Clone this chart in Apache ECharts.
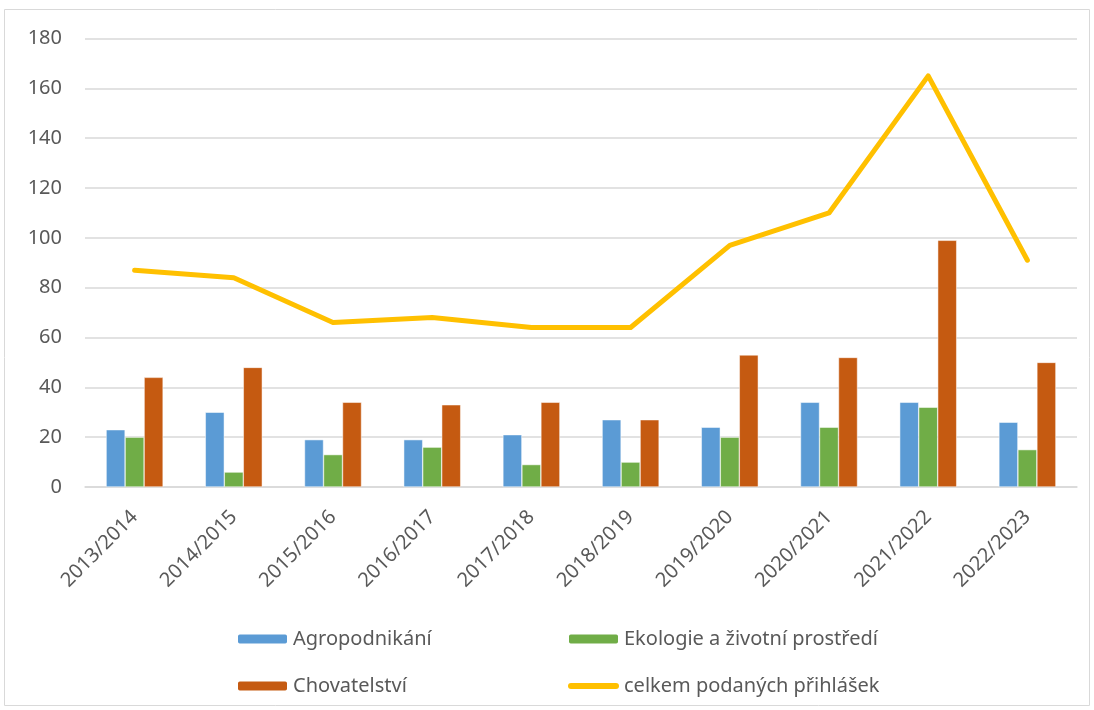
<!DOCTYPE html>
<html>
<head>
<meta charset="utf-8">
<script src="https://cdn.jsdelivr.net/npm/echarts@6/dist/echarts.min.js"></script>
<style>
  html, body { margin: 0; padding: 0; background: #fff; }
  #main { width: 1094px; height: 710px; }
</style>
</head>
<body>
<div id="main"></div>
<script>
var years = ["2013/2014", "2014/2015", "2015/2016", "2016/2017", "2017/2018",
  "2018/2019", "2019/2020", "2020/2021", "2021/2022", "2022/2023"];
var agro = [23, 30, 19, 19, 21, 27, 24, 34, 34, 26];
var eko = [20, 6, 13, 16, 9, 10, 20, 24, 32, 15];
var chov = [44, 48, 34, 33, 34, 27, 53, 52, 99, 50];
var celkem = [87, 84, 66, 68, 64, 64, 97, 110, 165, 91];

var font = "Noto Sans";
var textColor = "#595959";
// rounded thick line for the line series legend icon
var lineIcon = "path://M3,0 L48,0 A3,3 0 0 1 48,6 L3,6 A3,3 0 0 1 3,0 Z";

var chart = echarts.init(document.getElementById("main"));
var option = {
  animation: false,
  graphic: [{
    type: "rect",
    shape: { x: 4.5, y: 9.5, width: 1085, height: 696 },
    style: { fill: null, stroke: "#d9d9d9", lineWidth: 1 }
  }],
  grid: { left: 85, right: 17, top: 38.5, bottom: 223 },
  legend: [
    {
      orient: "vertical",
      left: 236, top: 629, padding: 0,
      itemGap: 27, itemWidth: 51, itemHeight: 11, itemTextGap: 6,
      data: ["Agropodnikání", "Chovatelství"],
      textStyle: { color: textColor, fontSize: 20, fontFamily: font }
    },
    {
      orient: "vertical",
      left: 567, top: 629, padding: 0,
      itemGap: 27, itemWidth: 51, itemHeight: 11, itemTextGap: 2,
      data: ["Ekologie a životní prostředí",
        { name: "celkem podaných přihlášek", icon: lineIcon }],
      textStyle: { color: textColor, fontSize: 20, fontFamily: font }
    }
  ],
  xAxis: {
    type: "category",
    data: years,
    axisLine: { lineStyle: { color: "#d9d9d9", width: 1.5 } },
    axisTick: { show: false },
    axisLabel: {
      rotate: 45, margin: 27, interval: 0,
      color: textColor, fontSize: 20, fontFamily: font
    }
  },
  yAxis: {
    type: "value",
    min: 0, max: 180, interval: 20,
    axisLine: { show: false },
    axisTick: { show: false },
    splitLine: { lineStyle: { color: "#d9d9d9", width: 1.5 } },
    axisLabel: { margin: 23, color: textColor, fontSize: 20, fontFamily: font }
  },
  series: [
    {
      name: "Agropodnikání", type: "bar", data: agro,
      barWidth: 19, barGap: "0%",
      itemStyle: { color: "#5b9bd5", borderColor: "#fff", borderWidth: 0.5 }
    },
    {
      name: "Ekologie a životní prostředí", type: "bar", data: eko,
      barWidth: 19, barGap: "0%",
      itemStyle: { color: "#70ad47", borderColor: "#fff", borderWidth: 0.5 }
    },
    {
      name: "Chovatelství", type: "bar", data: chov,
      barWidth: 19, barGap: "0%",
      itemStyle: { color: "#c55a11", borderColor: "#fff", borderWidth: 0.5 }
    },
    {
      name: "celkem podaných přihlášek", type: "line", data: celkem,
      symbol: "none",
      lineStyle: { color: "#ffc000", width: 5, cap: "round", join: "round" },
      itemStyle: { color: "#ffc000" }
    }
  ]
};
chart.setOption(option);
</script>
</body>
</html>
